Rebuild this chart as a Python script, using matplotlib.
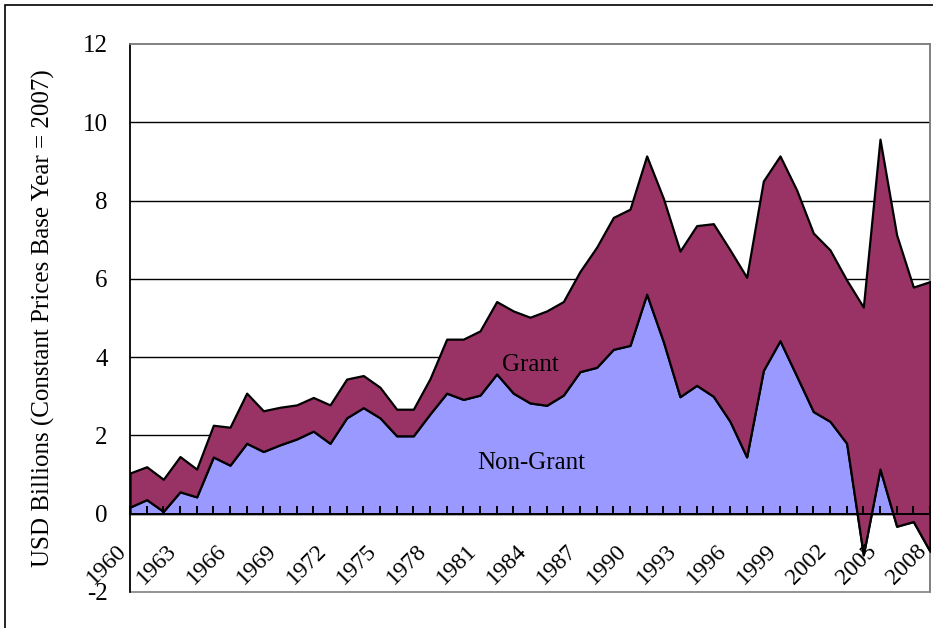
import numpy as np
import matplotlib
matplotlib.use("Agg")
import matplotlib.pyplot as plt
from matplotlib.patches import Rectangle
from matplotlib.transforms import ScaledTranslation

# Données (milliards USD, prix constants 2007)
annees = list(range(1960, 2009))
non_grant = [0.17, 0.36, 0.06, 0.56, 0.43, 1.45, 1.24, 1.80, 1.59, 1.76,
             1.91, 2.11, 1.80, 2.45, 2.71, 2.45, 1.99, 1.99, 2.55, 3.08,
             2.92, 3.03, 3.57, 3.08, 2.83, 2.77, 3.03, 3.63, 3.74, 4.20,
             4.30, 5.61, 4.40, 2.99, 3.28, 3.00, 2.36, 1.45, 3.66, 4.42,
             3.52, 2.61, 2.36, 1.80, -1.05, 1.14, -0.32, -0.20, -0.96]
grant = [0.87, 0.84, 0.82, 0.90, 0.71, 0.81, 0.97, 1.28, 1.04, 0.96,
         0.87, 0.86, 0.98, 0.99, 0.82, 0.78, 0.68, 0.68, 0.90, 1.38,
         1.54, 1.64, 1.85, 2.10, 2.19, 2.41, 2.39, 2.56, 3.07, 3.37,
         3.48, 3.53, 3.66, 3.72, 4.08, 4.41, 4.38, 4.59, 4.84, 4.72,
         4.75, 4.56, 4.38, 4.17, 6.33, 8.43, 7.44, 5.99, 6.89]
etiquettes_annees = annees[::3]
graduations_y = [-2, 0, 2, 4, 6, 8, 10, 12]

police = ["Liberation Serif", "DejaVu Serif"]
plt.rcParams["font.family"] = police


def tracer():
    fig = plt.figure(figsize=(9.33, 6.28), dpi=100)
    ax = fig.add_axes([130 / 933, 36 / 628, 800 / 933, 548 / 628])

    x = np.array(annees)
    ng = np.array(non_grant)
    total = ng + np.array(grant)

    # grille horizontale derrière les aires
    for v in graduations_y[2:-1]:
        ax.axhline(v, color="black", lw=1.0, zorder=1)

    ax.fill_between(x, 0, ng, facecolor="#9999FF", edgecolor="black",
                    lw=1.6, zorder=2)
    ax.fill_between(x, ng, total, facecolor="#993366", edgecolor="black",
                    lw=1.6, zorder=3)

    ax.text(1984, 3.8, "Grant", fontsize=18, ha="center", va="center", zorder=5)
    ax.text(1984.1, 1.3, "Non-Grant", fontsize=18, ha="center", va="center", zorder=5)

    ax.set_xlim(1960, 2008)
    ax.set_ylim(-2, 12)
    ax.set_yticks(graduations_y)
    ax.set_yticklabels([str(v) for v in graduations_y])
    ax.tick_params(axis="y", direction="in", length=0, pad=16, labelsize=18)

    # axe des catégories sur y = 0
    ax.spines["bottom"].set_position(("data", 0))
    ax.spines["bottom"].set_linewidth(1.4)
    ax.spines["bottom"].set_zorder(6)
    ax.xaxis.set_zorder(6)
    ax.spines["left"].set_linewidth(1.2)
    for cote in ["top", "right"]:
        ax.spines[cote].set_color("#808080")
        ax.spines[cote].set_linewidth(1.2)
    ax.add_patch(Rectangle((0, 0), 1, 1, transform=ax.transAxes, fill=False,
                           edgecolor="#808080", lw=1.2, zorder=0, clip_on=False))

    ax.set_xticks(etiquettes_annees)
    ax.set_xticks(annees, minor=True)
    ax.set_xticklabels([str(a) for a in etiquettes_annees], rotation=45,
                       ha="right", va="top", rotation_mode="anchor")
    ax.tick_params(axis="x", which="both", direction="in", length=6,
                   width=1.4, pad=19, labelsize=17)
    decalage = ScaledTranslation(-14 / 100, 0, fig.dpi_scale_trans)
    for lab in ax.get_xticklabels():
        lab.set_transform(lab.get_transform() + decalage)

    ax.set_ylabel("USD Billions (Constant Prices Base Year = 2007)",
                  fontsize=18, labelpad=20)

    # cadre du graphique
    fig.patches.append(Rectangle((5 / 933, -0.1), 1.2, 1 - 5 / 628 + 0.1,
                                 transform=fig.transFigure, fill=False,
                                 edgecolor="black", lw=1.2))

    fig.savefig("out.png", dpi=100)


if __name__ == "__main__":
    tracer()
